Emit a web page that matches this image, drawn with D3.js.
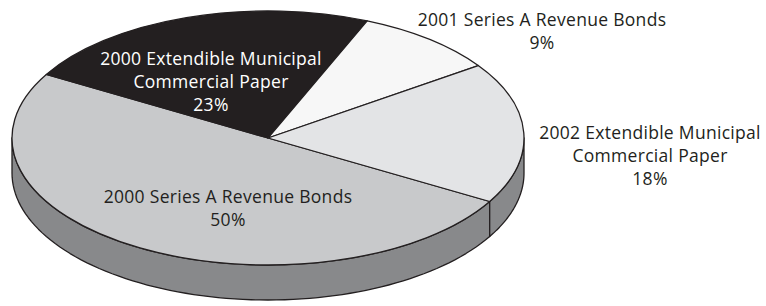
<!DOCTYPE html>
<html><head><meta charset="utf-8">
<script src="https://cdn.jsdelivr.net/npm/d3@7"></script>
<style>body{margin:0;background:#fff}svg{display:block}</style>
</head><body><svg id="c" width="766" height="306"></svg>
<script>
// Data
const categories = ["2000 Series A Revenue Bonds", "2000 Extendible Municipal Commercial Paper", "2001 Series A Revenue Bonds", "2002 Extendible Municipal Commercial Paper"];
const values = [50, 23, 9, 18];
const labelLines = [["2000 Series A Revenue Bonds", "50%"], ["2000 Extendible Municipal", "Commercial Paper", "23%"], ["2001 Series A Revenue Bonds", "9%"], ["2002 Extendible Municipal", "Commercial Paper", "18%"]];
const topColors = ["#c8c9cb", "#231f20", "#f7f7f7", "#e3e4e6"];
const textColors = ["#231f20", "#ffffff", "#231f20", "#231f20"];
const labelPos = [[228, 203], [211, 65], [542, 26], [650, 139]];

const svg = d3.select("#c");
const cx = 268, cy = 138, rx = 256, ry = 127, depth = 35;
const stroke = "#231f20";

const pie = d3.pie().sort(null).value(d => d).startAngle(120 * Math.PI / 180).endAngle(480 * Math.PI / 180);
const arcs = pie(values);

const px = a => cx + rx * Math.sin(a);
const py = a => cy - ry * Math.cos(a);

// side walls (front half)
const sideG = svg.append("g");
arcs.forEach((d, i) => {
  const segs = [];
  for (let k = -1; k <= 1; k++) {
    const lo = Math.PI / 2 + k * 2 * Math.PI, hi = 3 * Math.PI / 2 + k * 2 * Math.PI;
    const a0 = Math.max(d.startAngle, lo), a1 = Math.min(d.endAngle, hi);
    if (a1 > a0) segs.push([a0, a1]);
  }
  segs.forEach(([a0, a1]) => {
    const n = 80;
    const top = d3.range(n + 1).map(j => a0 + (a1 - a0) * j / n);
    const pts = top.map(a => [px(a), py(a)]).concat(top.slice().reverse().map(a => [px(a), py(a) + depth]));
    sideG.append("path")
      .attr("d", d3.line()(pts) + "Z")
      .attr("fill", "#88898b")
      .attr("stroke", stroke).attr("stroke-width", 1.3).attr("stroke-linejoin", "round");
  });
});

// top faces
const arcGen = d3.arc().innerRadius(0).outerRadius(rx);
svg.append("g")
  .attr("transform", `translate(${cx},${cy}) scale(1,${ry / rx})`)
  .selectAll("path").data(arcs).join("path")
  .attr("d", arcGen)
  .attr("fill", (d, i) => topColors[i])
  .attr("stroke", stroke).attr("stroke-width", 1.3)
  .attr("vector-effect", "non-scaling-stroke")
  .attr("stroke-linejoin", "round");

// labels
const lg = svg.append("g").attr("font-family", "'Open Sans', sans-serif").attr("font-size", 17.5).attr("letter-spacing", 0.3).attr("text-anchor", "middle");
labelLines.forEach((lines, i) => {
  const t = lg.append("text").attr("fill", textColors[i]);
  lines.forEach((s, j) => t.append("tspan").attr("x", labelPos[i][0]).attr("y", labelPos[i][1] + j * 23).text(s));
});
</script></body></html>
